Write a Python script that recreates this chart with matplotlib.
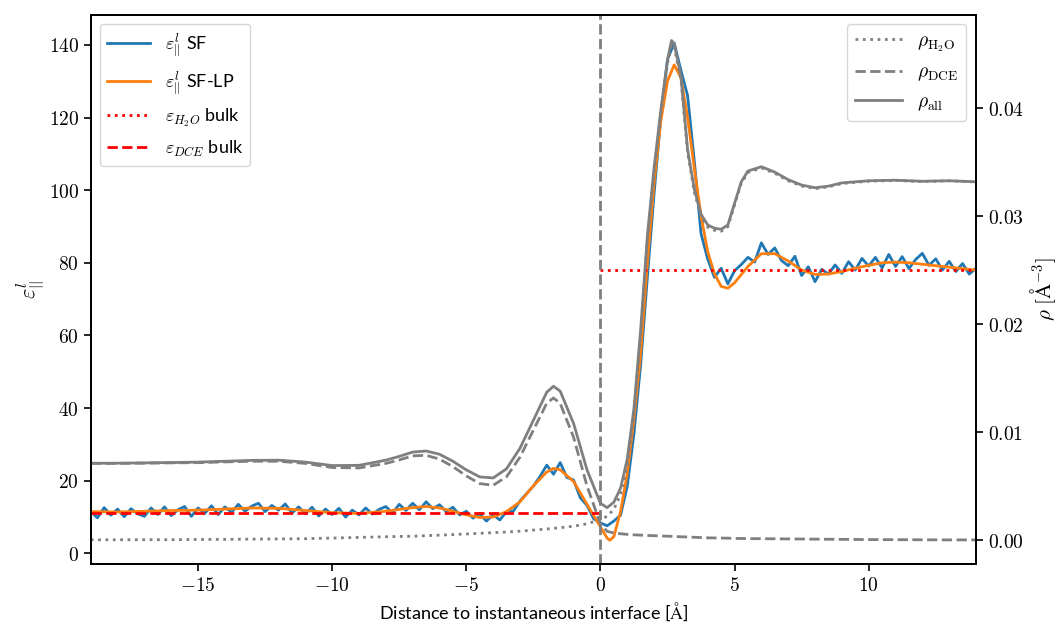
import numpy as np
import matplotlib
matplotlib.use("Agg")
import matplotlib.pyplot as plt
from matplotlib.ticker import FuncFormatter

plt.rcParams['mathtext.fontset'] = 'cm'
plt.rcParams['font.family'] = ['Lato', 'DejaVu Sans']

# dielectric profile, raw (SF) on a 0.25 A grid
x_sf = np.linspace(-19, 14, 133)
eps_sf = [
    11.5, 9.8, 12.6, 10.5, 12.2, 10.1, 12.3, 10.9,
    10.2, 12.5, 10.7, 12.8, 10.4, 12.0, 12.9, 10.2,
    12.5, 11.0, 13.1, 10.7, 12.8, 11.3, 13.5, 11.6,
    13.0, 13.8, 11.5, 13.2, 11.9, 13.6, 11.1, 12.8,
    10.9, 12.7, 10.3, 12.2, 10.7, 12.4, 10.0, 11.9,
    10.6, 12.5, 10.8, 12.1, 12.9, 11.1, 13.5, 11.8,
    13.8, 12.0, 14.2, 12.3, 13.4, 11.5, 12.7, 10.6,
    11.6, 9.7, 10.9, 8.9, 10.6, 9.2, 11.5, 11.6,
    14.4, 16.5, 18.5, 21.2, 24.3, 21.8, 25.0, 20.9,
    20.2, 15.3, 13.2, 9.5,
    8.4, 7.6, 8.9, 10.5, 18.5, 33.0, 52.0, 76.0,
    99.0, 120.0, 136.0, 140.5, 133.0, 126.0, 108.0, 88.0,
    81.0, 76.0, 78.5, 74.2, 77.8, 79.5, 81.5, 80.2,
    85.5, 82.3, 84.1, 80.6, 79.2, 81.8, 76.5, 78.9,
    74.8, 78.2, 76.9, 79.4, 77.1, 80.3, 78.0, 81.2,
    79.1, 81.5, 78.6, 82.3, 79.0, 81.7, 78.4, 80.9,
    82.6, 79.3, 81.1, 78.0, 80.4, 77.6, 79.8, 76.9,
    78.5,
]

# low-pass filtered profile (SF-LP)
x_lp = [-19, -18, -17, -16, -15, -14, -13, -12, -11, -10, -9, -8, -7, -6.5,
        -6, -5.5, -5, -4.5, -4, -3.5, -3, -2.5, -2, -1.75, -1.5, -1, -0.5,
        0, 0.25, 0.35, 0.5, 0.75, 1, 1.25, 1.5, 1.75, 2, 2.25, 2.5, 2.75,
        3, 3.25, 3.5, 3.75, 4, 4.25, 4.5, 4.75, 5, 5.5, 6, 6.5, 7, 7.5, 8,
        8.5, 9, 9.5, 10, 10.5, 11, 11.5, 12, 12.5, 13, 14]
eps_lp = [11.5, 11.4, 11.6, 11.8, 11.9, 12.2, 12.5, 12.4, 11.8, 11.2, 11.0,
          11.6, 12.6, 12.9, 12.5, 11.6, 10.6, 9.9, 10.0, 11.5, 14.2, 18.6,
          22.4, 23.4, 23.0, 19.8, 13.5, 7.3, 4.2, 3.6, 4.6, 11.5, 22.0, 37.0,
          55.0, 80.0, 102.0, 119.0, 130.0, 134.5, 131.0, 120.0, 106.0, 93.0,
          83.0, 77.0, 73.5, 73.0, 74.5, 79.0, 82.5, 82.5, 80.5, 78.0, 76.8,
          76.9, 77.6, 78.5, 79.3, 80.0, 80.2, 80.0, 79.6, 79.2, 78.8, 78.0]

# bulk values
eps_h2o_bulk = 78.0
eps_dce_bulk = 11.0

# densities [1/A^3]
x_rho = [-19, -18, -17, -16, -15, -14, -13, -12, -11, -10, -9, -8, -7.5, -7,
         -6.5, -6, -5.5, -5, -4.5, -4, -3.5, -3, -2.5, -2, -1.75, -1.5, -1,
         -0.5, 0, 0.25, 0.5, 0.75, 1, 1.25, 1.5, 1.75, 2, 2.25, 2.5, 2.65,
         2.75, 3, 3.25, 3.5, 3.75, 4, 4.25, 4.5, 4.75, 5, 5.25, 5.5, 6, 6.5,
         7, 7.5, 8, 8.5, 9, 10, 11, 12, 13, 14]
rho_all = [.00712, .00712, .00715, .00718, .00722, .00730, .00738, .00740,
           .00722, .00690, .00692, .00740, .00775, .00815, .00825, .00795,
           .00730, .00650, .00585, .00575, .00660, .00850, .01110, .01370,
           .01425, .01380, .01080, .00650, .00340, .00300, .00350, .00480,
           .00750, .01220, .01950, .02820, .03450, .03980, .04450, .04630,
           .04600, .04300, .03620, .03250, .03020, .02920, .02890, .02880,
           .02920, .03120, .03320, .03420, .03460, .03410, .03340, .03290,
           .03265, .03280, .03310, .03330, .03335, .03325, .03330, .03320]
rho_dce = [.00710, .00710, .00712, .00715, .00717, .00724, .00730, .00730,
           .00710, .00672, .00668, .00710, .00742, .00780, .00785, .00750,
           .00680, .00594, .00523, .00507, .00586, .00768, .01018, .01268,
           .01317, .01266, .00952, .00500, .00150, .00080, .00065, .00058,
           .00052, .00048, .00045, .00042, .00040, .00038, .00035, .00034,
           .00033, .00030, .00028, .00025, .00023, .00020, .00019, .00018,
           .00017, .00015, .00014, .00013, .00012, .00011, .00010, .00009,
           .00008, .00007, .00006, .00004, .00003, .00002, .00001, .00001]
rho_h2o = [.00002, .00002, .00003, .00003, .00005, .00006, .00008, .00010,
           .00012, .00018, .00024, .00030, .00033, .00035, .00040, .00045,
           .00050, .00056, .00062, .00068, .00074, .00082, .00092, .00102,
           .00108, .00114, .00128, .00150, .00190, .00220, .00285, .00422,
           .00698, .01172, .01905, .02778, .03410, .03942, .04415, .04596,
           .04567, .04270, .03592, .03225, .02997, .02900, .02871, .02862,
           .02903, .03105, .03306, .03407, .03448, .03399, .03330, .03281,
           .03257, .03273, .03304, .03326, .03332, .03323, .03329, .03319]

fig = plt.figure(figsize=(10.59, 6.26), dpi=100)
ax = fig.add_axes([0.0857, 0.0986, 0.8359, 0.8779])

ax.plot(x_sf, eps_sf, color='tab:blue', lw=2, label=r'$\varepsilon^l_{||}$ SF')
ax.plot(x_lp, eps_lp, color='tab:orange', lw=2, label=r'$\varepsilon^l_{||}$ SF-LP')
ax.plot([0, 14], [eps_h2o_bulk, eps_h2o_bulk], color='red', ls=':', lw=2,
        label=r'$\varepsilon_{H_2O}$ bulk')
ax.plot([-19, 0], [eps_dce_bulk, eps_dce_bulk], color='red', ls='--', lw=2,
        label=r'$\varepsilon_{DCE}$ bulk')
ax.axvline(0, color='tab:gray', ls='--', lw=2)
ax.set_xlim(-19, 14)
ax.set_ylim(-3, 148.3)
ax.set_xticks([-15, -10, -5, 0, 5, 10])
ax.set_yticks([0, 20, 40, 60, 80, 100, 120, 140])
ax.set_xlabel(r'Distance to instantaneous interface [$\mathrm{\AA}$]', fontsize=13,
              labelpad=5)
ax.set_ylabel(r'$\varepsilon^l_{||}$', fontsize=16, labelpad=2)
ax.legend(loc='upper left', fontsize=13, handlelength=2.4, labelspacing=0.55)

ax2 = ax.twinx()
ax2.plot(x_rho, rho_h2o, color='tab:gray', ls=':', lw=2, label=r'$\rho_{\mathrm{H_2O}}$')
ax2.plot(x_rho, rho_dce, color='tab:gray', ls='--', lw=2, label=r'$\rho_{\mathrm{DCE}}$')
ax2.plot(x_rho, rho_all, color='tab:gray', ls='-', lw=2, label=r'$\rho_{\mathrm{all}}$')
ax2.set_ylim(-0.00225, 0.04869)
ax2.set_yticks([0.0, 0.01, 0.02, 0.03, 0.04])
ax2.set_ylabel(r'$\rho\ [\mathrm{\AA}^{-3}]$', fontsize=15, labelpad=3)
ax2.legend(loc='upper right', fontsize=14, handlelength=2.4)

ax.xaxis.set_major_formatter(FuncFormatter(lambda v, p: r'$%g$' % v))
ax.yaxis.set_major_formatter(FuncFormatter(lambda v, p: r'$%g$' % v))
ax2.yaxis.set_major_formatter(FuncFormatter(lambda v, p: r'$%.2f$' % v))
for a in (ax, ax2):
    a.tick_params(labelsize=14, width=1.2, length=5)
    for s in a.spines.values():
        s.set_linewidth(1.3)

fig.savefig('out.png', dpi=100)
